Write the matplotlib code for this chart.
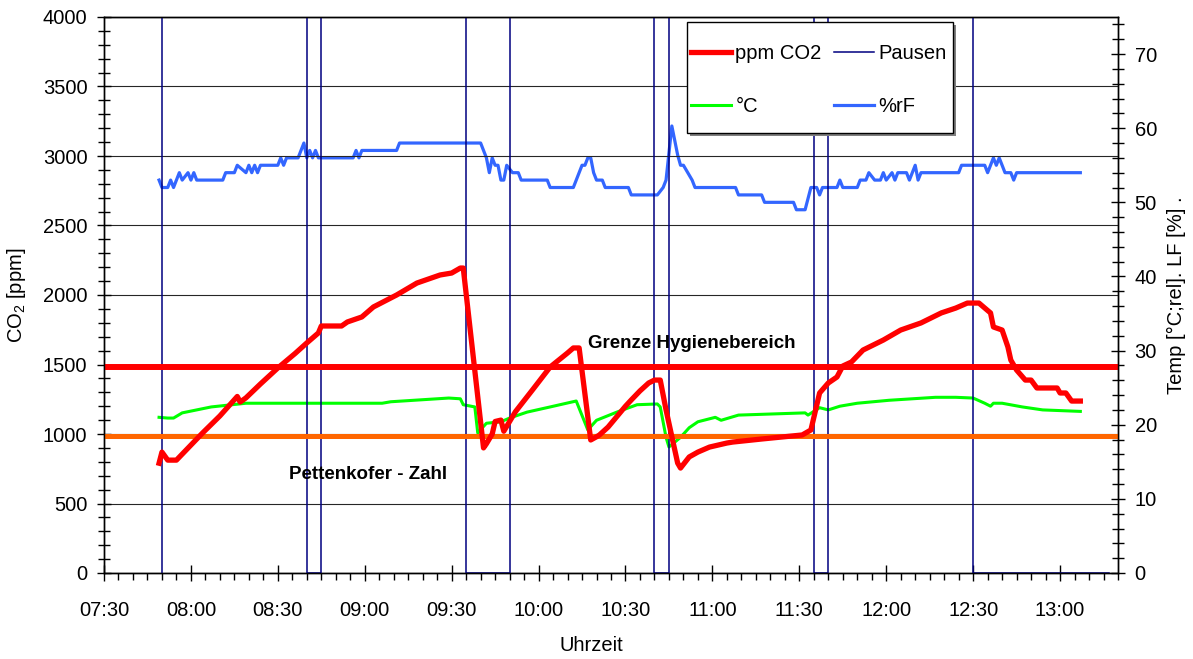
import matplotlib
matplotlib.use('Agg')
import matplotlib.pyplot as plt
from matplotlib.ticker import MultipleLocator
from matplotlib.patches import Rectangle

plt.rcParams['font.family'] = ['Liberation Sans', 'DejaVu Sans']
plt.rcParams['font.size'] = 14.5
plt.rcParams['mathtext.fontset'] = 'custom'
plt.rcParams['mathtext.rm'] = 'Liberation Sans'


def to_h(t):
    h, m = t.split(':')
    return int(h) + int(m) / 60


x_labels = ['07:30', '08:00', '08:30', '09:00', '09:30', '10:00',
            '10:30', '11:00', '11:30', '12:00', '12:30', '13:00']

# CO2 [ppm]
co2_time = ['07:49', '07:50', '07:52', '07:55', '08:04', '08:10', '08:16', '08:17', '08:19',
            '08:24', '08:30', '08:36', '08:40', '08:44', '08:45', '08:52', '08:54', '08:59',
            '09:03', '09:11', '09:18', '09:26', '09:30', '09:33', '09:34', '09:41', '09:42',
            '09:44', '09:45', '09:47', '09:48', '09:52', '09:58', '10:04', '10:10', '10:12',
            '10:14', '10:18', '10:20', '10:21', '10:24', '10:26', '10:28', '10:30', '10:32',
            '10:35', '10:38', '10:40', '10:42', '10:44', '10:48', '10:49', '10:52', '10:55',
            '10:59', '11:05', '11:07', '11:17', '11:31', '11:34', '11:37', '11:40', '11:43',
            '11:45', '11:48', '11:52', '11:59', '12:05', '12:12', '12:19', '12:24', '12:28',
            '12:32', '12:36', '12:37', '12:40', '12:42', '12:43', '12:45', '12:48', '12:50',
            '12:52', '12:59', '13:00', '13:02', '13:04', '13:07']
co2_ppm = [790, 870, 812, 812, 1007, 1130, 1270, 1230, 1260,
           1360, 1475, 1580, 1655, 1727, 1777, 1777, 1806, 1842,
           1914, 2000, 2086, 2144, 2158, 2194, 2194, 900, 930,
           1000, 1090, 1100, 1020, 1160, 1320, 1482, 1583, 1619,
           1619, 957, 980, 993, 1050, 1100, 1150, 1200, 1245,
           1310, 1367, 1388, 1388, 1173, 791, 755, 835, 870,
           906, 935, 942, 964, 993, 1029, 1295, 1367, 1410,
           1489, 1518, 1604, 1676, 1748, 1799, 1871, 1906, 1942,
           1942, 1871, 1770, 1748, 1626, 1532, 1460, 1388, 1388,
           1331, 1331, 1295, 1295, 1237, 1237]

# Temperatur [°C]
temp_time = ['07:49', '07:52', '07:54', '07:57', '08:07', '08:19', '08:26', '09:06', '09:09',
             '09:29', '09:33', '09:34', '09:38', '09:39', '09:42', '09:47', '09:50', '09:56',
             '10:04', '10:13', '10:17', '10:20', '10:27', '10:34', '10:41', '10:42', '10:44',
             '10:45', '10:49', '10:52', '10:55', '11:01', '11:03', '11:09', '11:32', '11:33',
             '11:37', '11:40', '11:44', '11:50', '12:01', '12:17', '12:24', '12:30', '12:34',
             '12:36', '12:37', '12:40', '12:47', '12:54', '13:07']
temp_c = [21.0, 20.9, 20.9, 21.6, 22.4, 22.9, 22.9, 22.9, 23.1,
          23.6, 23.5, 22.7, 22.4, 18.9, 20.2, 20.4, 20.9, 21.7,
          22.4, 23.2, 19.3, 20.6, 21.7, 22.7, 22.8, 22.4, 18.3,
          17.0, 18.3, 19.6, 20.4, 21.0, 20.6, 21.3, 21.6, 21.3,
          22.3, 22.0, 22.5, 22.9, 23.3, 23.7, 23.7, 23.6, 22.9,
          22.5, 22.9, 22.9, 22.4, 22.0, 21.8]

# relative Luftfeuchte [%]
rh_time = ['07:49', '07:50', '07:52', '07:53', '07:54', '07:55', '07:56', '07:57', '07:59',
           '08:00', '08:01', '08:02', '08:11', '08:12', '08:15', '08:16', '08:19', '08:20',
           '08:21', '08:22', '08:23', '08:24', '08:30', '08:31', '08:32', '08:33', '08:37',
           '08:39', '08:40', '08:41', '08:42', '08:43', '08:44', '08:56', '08:57', '08:58',
           '08:59', '09:11', '09:12', '09:40', '09:42', '09:43', '09:44', '09:45', '09:46',
           '09:47', '09:48', '09:49', '09:51', '09:53', '09:54', '10:03', '10:04', '10:12',
           '10:13', '10:15', '10:16', '10:17', '10:18', '10:19', '10:20', '10:22', '10:23',
           '10:31', '10:32', '10:41', '10:43', '10:44', '10:46', '10:48', '10:49', '10:50',
           '10:53', '10:54', '11:08', '11:09', '11:17', '11:18', '11:28', '11:29', '11:32',
           '11:34', '11:36', '11:37', '11:38', '11:43', '11:44', '11:45', '11:50', '11:51',
           '11:53', '11:54', '11:56', '11:58', '11:59', '12:00', '12:02', '12:03', '12:04',
           '12:07', '12:08', '12:10', '12:11', '12:12', '12:25', '12:26', '12:34', '12:35',
           '12:37', '12:38', '12:39', '12:41', '12:43', '12:44', '12:45', '13:07']
rh_pct = [53, 52, 52, 53, 52, 53, 54, 53, 54,
          53, 54, 53, 53, 54, 54, 55, 54, 55,
          54, 55, 54, 55, 55, 56, 55, 56, 56,
          58, 56, 57, 56, 57, 56, 56, 57, 56,
          57, 57, 58, 58, 56, 54, 56, 55, 55,
          53, 53, 55, 54, 54, 53, 53, 52, 52,
          53, 55, 55, 56, 56, 54, 53, 53, 52,
          52, 51, 51, 52, 53, 60.3, 56.4, 55, 55,
          53, 52, 52, 51, 51, 50, 50, 49, 49,
          52, 52, 51, 52, 52, 53, 52, 52, 53,
          53, 54, 53, 53, 54, 53, 54, 53, 54,
          54, 53, 55, 53, 54, 54, 55, 55, 54,
          56, 55, 56, 54, 54, 53, 54, 54]

# Pausen (Stufenfunktion)
pause_time = ['07:50', '07:50', '08:40', '08:45', '09:35', '09:50', '10:40', '10:45',
              '11:35', '11:40', '12:30', '13:17']
pause_val = [0, 4000, 0, 4000, 0, 4000, 0, 4000, 0, 4000, 0, 0]

grenze = 1480
pettenkofer = 985

fig = plt.figure(figsize=(11.93, 6.59), dpi=100)
ax1 = fig.add_axes([104 / 1193, 1 - 573 / 659, 1014 / 1193, 556 / 659])
ax2 = ax1.twinx()
ax1.set_zorder(ax2.get_zorder() + 1)
ax1.patch.set_visible(False)

ax2.plot([to_h(t) for t in rh_time], rh_pct, color='#3366ff', lw=2.3, label='%rF')
ax2.plot([to_h(t) for t in temp_time], temp_c, color='#00ff00', lw=2.2, label='°C')

l_pause, = ax1.plot([to_h(t) for t in pause_time], pause_val, color='#000080', lw=1.1,
                    drawstyle='steps-post', label='Pausen')
ax1.axhline(grenze, color='#ff0000', lw=4.3)
ax1.axhline(pettenkofer, color='#ff6600', lw=3.6)
l_co2, = ax1.plot([to_h(t) for t in co2_time], co2_ppm, color='#ff0000', lw=3.8, label='ppm CO2')

ax1.text(to_h('10:53'), 1650, 'Grenze Hygienebereich', ha='center', va='center',
         fontweight='bold', fontsize=13.5)
ax1.text(to_h('09:01'), 712, 'Pettenkofer - Zahl', ha='center', va='center',
         fontweight='bold', fontsize=13.5)

ax1.set_xlim(to_h('07:30'), to_h('13:20'))
ax1.set_ylim(0, 4000)
ax2.set_ylim(0, 75)

ax1.set_xticks([to_h(t) for t in x_labels])
ax1.set_xticklabels(x_labels)
ax1.xaxis.set_minor_locator(MultipleLocator(5 / 60))
ax1.yaxis.set_major_locator(MultipleLocator(500))
ax1.yaxis.set_minor_locator(MultipleLocator(100))
ax2.yaxis.set_major_locator(MultipleLocator(10))
ax2.yaxis.set_minor_locator(MultipleLocator(2))
ax2.set_yticks(range(0, 80, 10))

ax1.grid(axis='y', which='major', color='0.15', lw=0.8)

ax1.tick_params(axis='y', which='major', direction='inout', length=10, width=1, pad=7)
ax1.tick_params(axis='y', which='minor', direction='inout', length=8, width=1)
ax1.tick_params(axis='x', which='major', direction='inout', length=12, width=1, pad=14)
ax1.tick_params(axis='x', which='minor', direction='out', length=5, width=1)
ax2.tick_params(axis='y', which='major', direction='inout', length=10, width=1, pad=7)
ax2.tick_params(axis='y', which='minor', direction='inout', length=8, width=1)

for ax in (ax1, ax2):
    for s in ax.spines.values():
        s.set_linewidth(1)
        s.set_color('black')

ax1.set_ylabel('CO$_2$ [ppm]')
ax1.yaxis.set_label_coords(-0.075, 0.5)
ax2.set_ylabel('Temp [°C;rel]. LF [%] .')
ax2.yaxis.set_label_coords(1.048, 0.5)
ax1.set_xlabel('Uhrzeit')
ax1.xaxis.set_label_coords(0.481, -0.114)

# Legendenrahmen mit Schatten
ax1.add_patch(Rectangle((0.578, 0.786), 0.2623, 0.1996, transform=ax1.transAxes,
                        facecolor='0.5', edgecolor='none', zorder=4.8))
ax1.add_patch(Rectangle((0.575, 0.791), 0.2623, 0.1996, transform=ax1.transAxes,
                        facecolor='white', edgecolor='black', lw=1, zorder=4.9))
l_rh = ax2.lines[0]
l_temp = ax2.lines[1]
leg = ax1.legend([l_co2, l_temp, l_pause, l_rh], ['ppm CO2', '°C', 'Pausen', '%rF'],
                 ncol=2, loc='upper left', bbox_to_anchor=(691 / 1193, 1 - 44 / 659),
                 bbox_transform=fig.transFigure, frameon=False, borderpad=0,
                 borderaxespad=0, handlelength=2.0, handletextpad=0.2,
                 columnspacing=0.6, labelspacing=1.7, fontsize=14.5)
leg.set_zorder(5)

fig.savefig('out.png', dpi=100)
